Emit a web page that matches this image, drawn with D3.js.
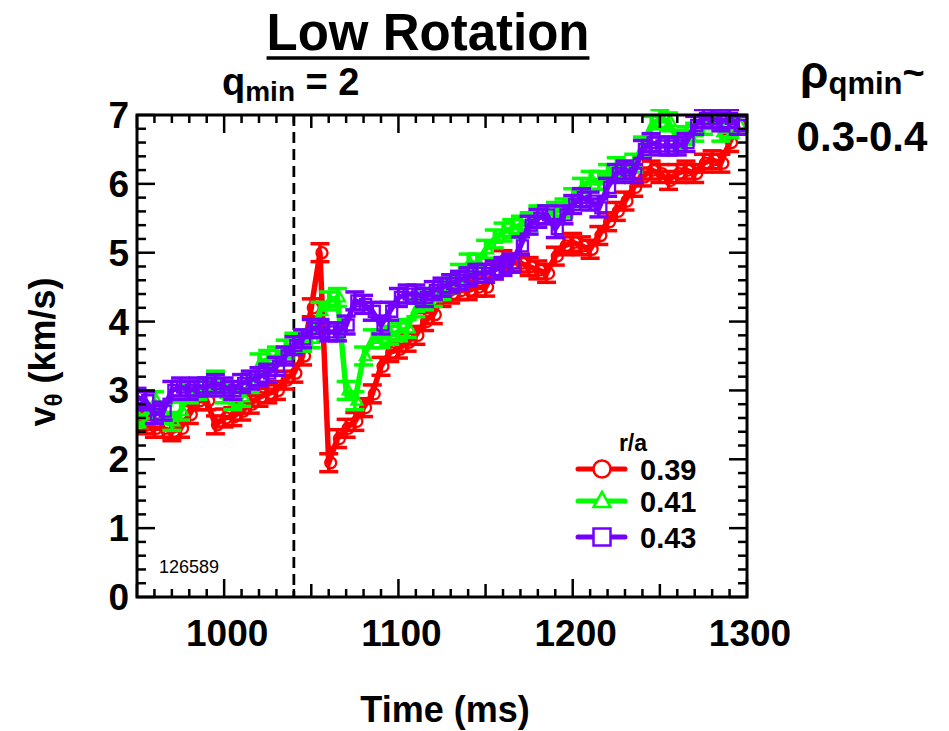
<!DOCTYPE html>
<html><head><meta charset="utf-8">
<script src="https://cdn.jsdelivr.net/npm/d3@7/dist/d3.min.js"></script>
<style>body{margin:0;background:#fff}svg{display:block}</style>
</head><body>
<svg id="c" width="949" height="731"></svg>
<script>
// ---- data ----
const times = [950,955,960,965,970,975,980,985,990,995,
  1000,1005,1010,1015,1020,1025,1030,1035,1040,1045,
  1050,1055,1060,1065,1070,1075,1080,1085,1090,1095,
  1100,1105,1110,1115,1120,1125,1130,1135,1140,1145,
  1150,1155,1160,1165,1170,1175,1180,1185,1190,1195,
  1200,1205,1210,1215,1220,1225,1230,1235,1240,1245,
  1250,1255,1260,1265,1270,1275,1280,1285,1290,1295];
const v039 = [2.55,2.5,2.45,2.45,2.4,2.45,2.65,2.85,2.85,2.5,
  2.6,2.62,2.7,2.8,2.9,2.95,3.0,3.15,3.25,3.5,
  4.2,5.0,1.95,2.3,2.45,2.55,2.75,2.95,3.35,3.55,
  3.6,3.7,3.8,4.0,4.1,4.35,4.4,4.45,4.45,4.5,
  4.5,4.75,4.9,4.85,4.85,4.8,4.75,4.7,4.95,5.1,
  5.15,5.1,5.05,5.25,5.45,5.6,5.75,5.95,6.1,6.2,
  6.15,6.05,6.15,6.2,6.15,6.3,6.35,6.3,6.6,6.85];
const v041 = [2.6,2.65,2.85,2.65,2.55,2.7,2.95,3.0,3.05,3.15,
  2.95,2.85,2.9,3.1,3.4,3.45,3.5,3.6,3.7,3.7,
  3.75,4.15,4.3,4.35,3.0,2.85,3.5,3.75,3.75,3.8,
  3.85,3.9,4.2,4.3,4.35,4.45,4.55,4.7,4.85,4.85,
  5.05,5.2,5.3,5.35,5.4,5.45,5.55,5.55,5.6,5.65,
  5.8,5.95,6.05,6.05,6.15,6.25,6.2,6.3,6.55,6.85,
  6.95,6.9,6.65,6.7,6.75,6.85,6.95,6.75,6.8,6.85];
const v043 = [2.9,2.85,2.65,2.7,3.0,3.05,3.0,3.05,3.05,3.1,
  3.05,3.0,3.1,3.15,3.2,3.25,3.35,3.5,3.65,3.75,
  3.9,3.9,3.85,3.85,3.95,4.3,4.25,4.15,3.95,4.15,
  4.35,4.4,4.4,4.35,4.45,4.5,4.55,4.6,4.65,4.7,
  4.7,4.75,4.8,4.85,5.1,5.4,5.5,5.55,5.35,5.55,
  5.7,5.8,5.75,5.65,5.95,6.15,6.2,6.15,6.5,6.6,
  6.55,6.55,6.55,6.6,6.85,6.95,6.95,6.9,6.95,6.85];
const errBars = [0.13, 0.13, 0.13];
const seriesLabels = ["0.39","0.41","0.43"];
const seriesColors = ["#ff0000","#00ff00","#7300ff"];
const seriesMarkers = ["circle","triangle","square"];
const xTickLabels = [1000,1100,1200,1300];
const yTickLabels = [0,1,2,3,4,5,6,7];
const qminTime = 1040;
const shotNumber = "126589";

// ---- layout ----
const svg = d3.select("#c");
const x = d3.scaleLinear().domain([950,1300]).range([137,747]);
const y = d3.scaleLinear().domain([0,7]).range([597,115]);
const FONT = "'Liberation Sans', Arial, sans-serif";

const series = [v039, v041, v043].map((vals,i)=>({
  label: seriesLabels[i], color: seriesColors[i], marker: seriesMarkers[i], err: errBars[i],
  pts: times.map((t,j)=>({t, v: vals[j]}))
}));

svg.append("defs").append("clipPath").attr("id","clip")
  .append("rect").attr("x",x(950)).attr("y",y(7)-6).attr("width",x(1300)-x(950)+6).attr("height",y(0)-y(7)+6);

svg.append("line").attr("x1",x(qminTime)).attr("x2",x(qminTime)).attr("y1",y(7)).attr("y2",y(0))
  .attr("stroke","#000").attr("stroke-width",2.8).attr("stroke-dasharray","11,6");

function markerPath(type, s){
  if(type==="circle") return d3.symbol(d3.symbolCircle, Math.PI*s*s)();
  if(type==="triangle"){ const h=s*1.8; return `M0,${-h*0.6}L${s},${h*0.4}L${-s},${h*0.4}Z`; }
  return `M${-s},${-s}H${s}V${s}H${-s}Z`;
}

const plot = svg.append("g").attr("clip-path","url(#clip)");
const line = d3.line().x(d=>x(d.t)).y(d=>y(d.v));
series.forEach(s=>{
  const g = plot.append("g");
  g.append("path").datum(s.pts).attr("d",line).attr("fill","none")
    .attr("stroke",s.color).attr("stroke-width",5.5).attr("stroke-linejoin","round");
  const eb = g.selectAll(".eb").data(s.pts).enter().append("g");
  eb.append("line").attr("x1",d=>x(d.t)).attr("x2",d=>x(d.t))
    .attr("y1",d=>y(d.v+s.err)).attr("y2",d=>y(d.v-s.err)).attr("stroke",s.color).attr("stroke-width",3.5);
  [1,-1].forEach(k=>eb.append("line").attr("x1",d=>x(d.t)-9.5).attr("x2",d=>x(d.t)+9.5)
    .attr("y1",d=>y(d.v+k*s.err)).attr("y2",d=>y(d.v+k*s.err)).attr("stroke",s.color).attr("stroke-width",3.5));
  g.selectAll(".mk").data(s.pts).enter().append("path")
    .attr("d",markerPath(s.marker,5.5)).attr("transform",d=>`translate(${x(d.t)+2},${y(d.v)})`)
    .attr("fill","none").attr("stroke",s.color).attr("stroke-width",2.3);
});

svg.append("rect").attr("x",x(950)).attr("y",y(7)).attr("width",x(1300)-x(950)).attr("height",y(0)-y(7))
  .attr("fill","none").attr("stroke","#000").attr("stroke-width",3);

const ax = svg.append("g").attr("stroke","#000").attr("stroke-width",2.5);
d3.range(950,1301,10).forEach(t=>{
  const len = (t%100===0)?18:((t%50===0)?13:8);
  ax.append("line").attr("x1",x(t)).attr("x2",x(t)).attr("y1",y(7)).attr("y2",y(7)+len);
  ax.append("line").attr("x1",x(t)).attr("x2",x(t)).attr("y1",y(0)).attr("y2",y(0)-len);
});
d3.range(0,71,2).forEach(k=>{
  const v=k/10, len=(k%10===0)?18:9;
  ax.append("line").attr("x1",x(950)).attr("x2",x(950)+len).attr("y1",y(v)).attr("y2",y(v));
  ax.append("line").attr("x1",x(1300)).attr("x2",x(1300)-len).attr("y1",y(v)).attr("y2",y(v));
});

svg.selectAll(".xl").data(xTickLabels).enter().append("text")
  .attr("x",d=>x(d)+3).attr("y",646).attr("text-anchor","middle")
  .attr("font-family",FONT).attr("font-weight","bold").attr("font-size",37).text(d=>d);
svg.selectAll(".yl").data(yTickLabels).enter().append("text")
  .attr("x",129).attr("y",d=>y(d)+13).attr("text-anchor","end")
  .attr("font-family",FONT).attr("font-weight","bold").attr("font-size",37).text(d=>d);

svg.append("text").attr("x",445).attr("y",722).attr("text-anchor","middle")
  .attr("font-family",FONT).attr("font-weight","bold").attr("font-size",36).text("Time (ms)");
const yt = svg.append("text").attr("transform","translate(55,352) rotate(-90)").attr("text-anchor","middle")
  .attr("font-family",FONT).attr("font-weight","bold").attr("font-size",36);
yt.append("tspan").text("v");
yt.append("tspan").attr("font-size",24).attr("dy",7).text("θ");
yt.append("tspan").attr("dy",-7).text(" (km/s)");

svg.append("text").attr("x",159).attr("y",573).attr("font-family",FONT).attr("font-size",18).text(shotNumber);

// title
const title = svg.append("text").attr("x",428).attr("y",50).attr("text-anchor","middle")
  .attr("font-family",FONT).attr("font-weight","bold").attr("font-size",51).text("Low Rotation");
const tw = title.node().getComputedTextLength();
svg.append("line").attr("x1",428-tw/2).attr("x2",428+tw/2).attr("y1",58).attr("y2",58)
  .attr("stroke","#000").attr("stroke-width",3.5);

const q = svg.append("text").attr("x",222).attr("y",95)
  .attr("font-family",FONT).attr("font-weight","bold").attr("font-size",38);
q.append("tspan").text("q");
q.append("tspan").attr("font-size",28).attr("dy",6).text("min");
q.append("tspan").attr("dy",-6).text(" = 2");

// rho qmin
const r = svg.append("text").attr("x",800).attr("y",88)
  .attr("font-family",FONT).attr("font-weight","bold").attr("font-size",46);
r.append("tspan").text("ρ");
r.append("tspan").attr("font-size",31).attr("dy",6).text("qmin");
r.append("tspan").attr("font-size",38).attr("dy",-8).text("~");
svg.append("text").attr("x",862).attr("y",151).attr("text-anchor","middle")
  .attr("font-family",FONT).attr("font-weight","bold").attr("font-size",42).text("0.3-0.4");

// legend
svg.append("text").attr("x",633).attr("y",451).attr("text-anchor","middle")
  .attr("font-family",FONT).attr("font-weight","bold").attr("font-size",23).text("r/a");
const legY = [469, 501, 537];
series.forEach((s,i)=>{
  const g = svg.append("g").attr("transform",`translate(0,${legY[i]})`);
  g.append("line").attr("x1",578).attr("x2",625).attr("y1",0).attr("y2",0)
    .attr("stroke",s.color).attr("stroke-width",5).attr("stroke-linecap","round");
  g.append("path").attr("d",markerPath(s.marker,8.5)).attr("transform","translate(602,0)")
    .attr("fill","#fff").attr("stroke",s.color).attr("stroke-width",2.5);
  g.append("text").attr("x",640).attr("y",11).attr("font-family",FONT).attr("font-weight","bold")
    .attr("font-size",29).text(s.label);
});
</script>
</body></html>
